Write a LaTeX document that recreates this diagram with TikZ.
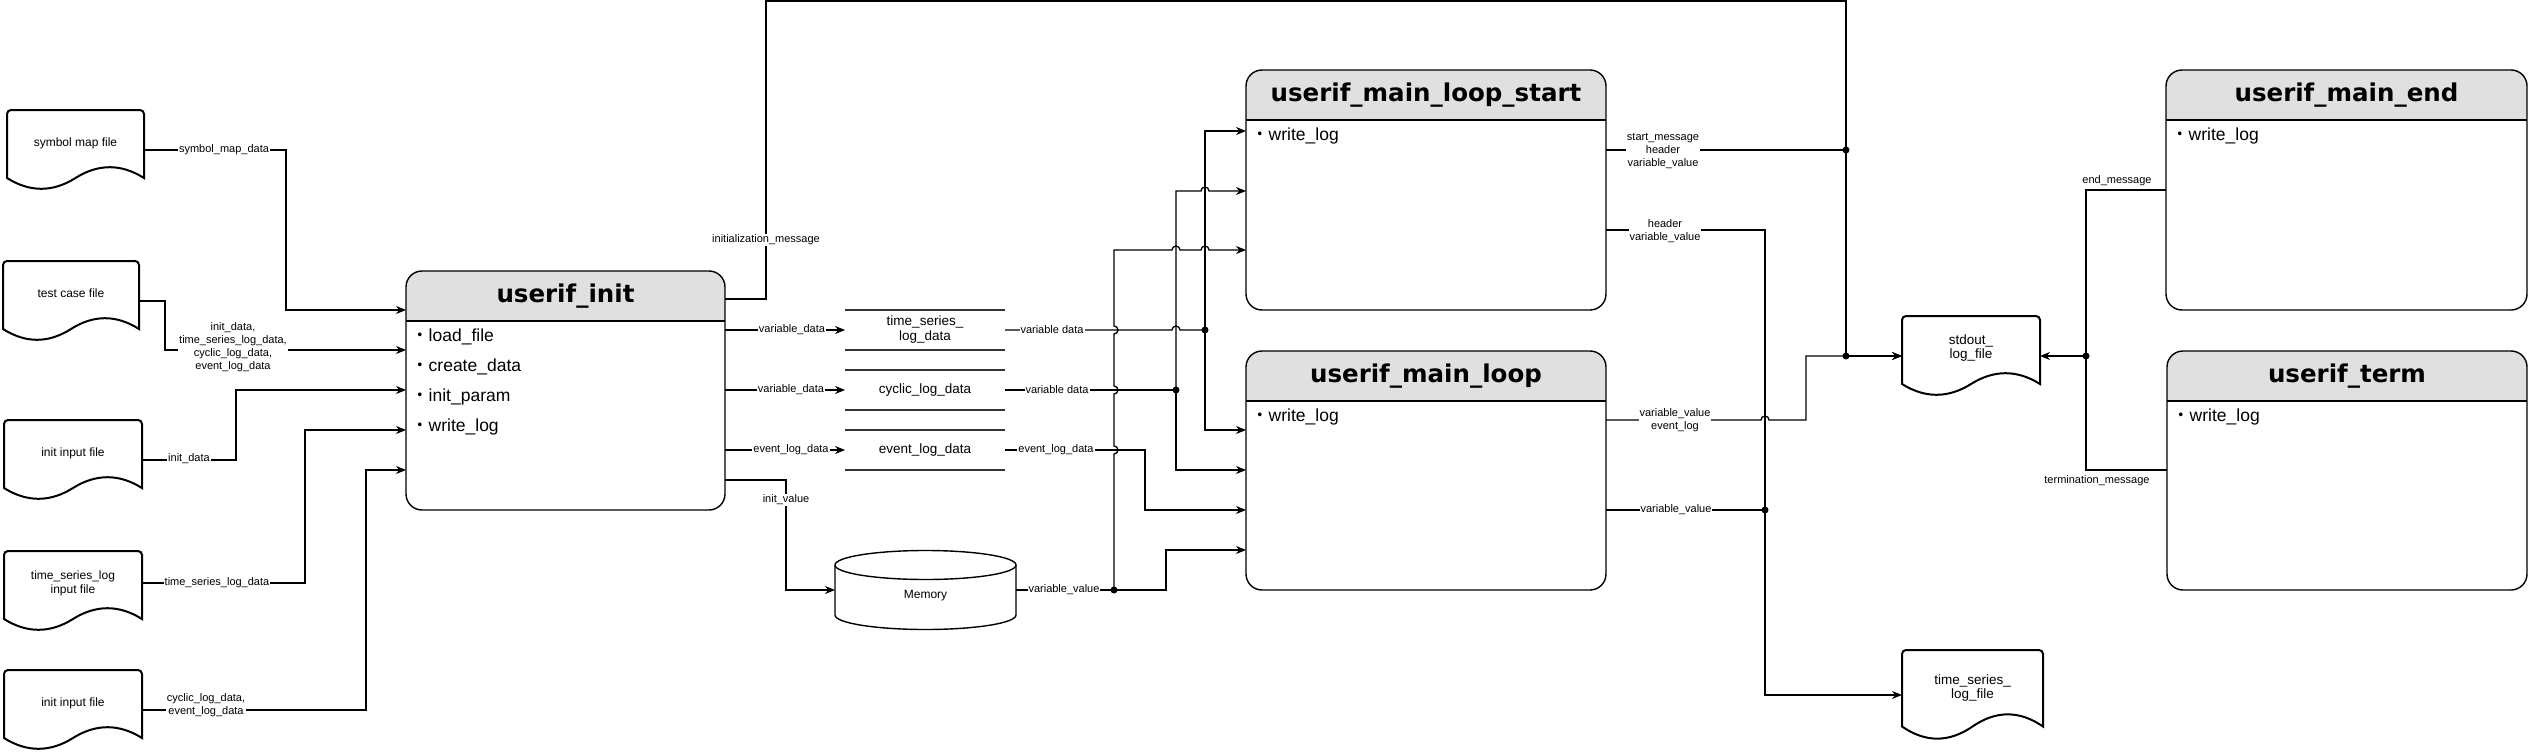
\documentclass[tikz,border=0pt]{standalone}
\usepackage{fontspec}
\setmainfont{Liberation Sans}
\newfontfamily\ttlfont{DejaVu Sans}
\newfontfamily\cjkfont{Noto Sans CJK JP}
\usetikzlibrary{arrows.meta,calc}
\definecolor{hdrfill}{RGB}{224,224,224}
\definecolor{storegray}{RGB}{51,51,51}
\tikzset{
  conn/.style={line width=1.3pt, draw=black},
  arr/.style={conn, -{Stealth[length=10pt,width=8pt]}},
  lbl/.style={font=\fontsize{11}{13}\selectfont, fill=white, inner sep=1pt, align=center},
  docline/.style={line width=2pt, draw=black, fill=white},
  doctext/.style={font=\fontsize{12}{14}\selectfont, align=center, inner sep=0pt},
  doctextb/.style={font=\fontsize{13.5}{14.5}\selectfont, align=center, inner sep=0pt},
  anchorbox/.style={draw=none, inner sep=0pt, outer sep=0pt},
  boxline/.style={line width=1.4pt, draw=black},
  storeline/.style={line width=2.2pt, draw=storegray},
  storetext/.style={anchorbox, minimum width=160pt, minimum height=40pt, font=\fontsize{13.5}{15}\selectfont, align=center},
  titletext/.style={font=\ttlfont\bfseries\fontsize{24.5}{28}\selectfont, inner sep=0pt},
  itemtext/.style={font=\fontsize{17.5}{20}\selectfont, inner sep=0pt, anchor=west},
  jdot/.style={fill=black},
}
\newcommand\mainbox[6]{%
  \node[anchorbox, minimum width=#4pt, minimum height=#5pt] (#1) at (#2,#3) {};
  \begin{scope}
    \clip[rounded corners=16pt] (#1.north west) rectangle (#1.south east);
    \fill[hdrfill] (#1.north west) rectangle ($(#1.north east)+(0,50)$);
  \end{scope}
  \draw[boxline] ($(#1.north west)+(0,50)$) -- ($(#1.north east)+(0,50)$);
  \draw[boxline, rounded corners=16pt] (#1.north west) rectangle (#1.south east);
  \node[titletext] (#1-title) at ($(#1.north)+(0,25)$) {#6};
}
\newcommand\boxitem[3]{%
  \node[itemtext] (#1-i#2) at ($(#1.north west)+(5,{36+30*#2})$) {{\cjkfont ・}#3};
}
\newcommand\docshape[4]{%
  \draw[docline] (#1,{#2+0.85*#4}) [rounded corners=4pt] -- (#1,#2) -- ({#1+#3},#2) [sharp corners] -- ({#1+#3},{#2+0.85*#4})
    .. controls ({#1+0.8333*#3},{#2+0.67*#4}) and ({#1+0.6667*#3},{#2+0.67*#4}) .. ({#1+0.5*#3},{#2+0.85*#4})
    .. controls ({#1+0.3333*#3},{#2+1.03*#4}) and ({#1+0.1667*#3},{#2+1.03*#4}) .. (#1,{#2+0.85*#4}) -- cycle;
}
\newcommand\docnode[8]{%
  \docshape{#2}{#3}{#4}{#5}
  \node[anchorbox, minimum width=#4pt, minimum height=#5pt] (#1) at ({#2+0.5*#4},{#3+0.5*#5}) {};
  \node[#7] (#1-t) at ({#2+0.5*#4},{#3+#6}) {#8};
}
\begin{document}
\begin{tikzpicture}[x=1pt,y=-1pt]
\useasboundingbox (0,0) rectangle (2528,752);
\fill[white] (0,0) rectangle (2528,752);

% ---------- documents ----------
\docnode{sym}{7}{110}{137}{80}{33}{doctext}{symbol map file}
\docnode{tc}{3}{261}{136}{80}{32}{doctext}{test case file}
\docnode{iin}{4}{420}{138}{80}{33}{doctext}{init input file}
\docnode{tsin}{4}{551}{138}{80}{32}{doctext}{time\_series\_log\\input file}
\docnode{iin2}{4}{670}{138}{80}{33}{doctext}{init input file}
\docnode{stdout}{1902}{316}{138}{80}{32}{doctextb}{stdout\_\\log\_file}
\docnode{tslog}{1902}{650}{141}{90}{38}{doctextb}{time\_series\_\\log\_file}

% ---------- main boxes ----------
\mainbox{init}{565.5}{390.5}{319}{239}{userif\_init}
\boxitem{init}{1}{load\_file}
\boxitem{init}{2}{create\_data}
\boxitem{init}{3}{init\_param}
\boxitem{init}{4}{write\_log}
\mainbox{mls}{1426}{190}{360}{240}{userif\_main\_loop\_start}
\boxitem{mls}{1}{write\_log}
\mainbox{ml}{1426}{470.5}{360}{239}{userif\_main\_loop}
\boxitem{ml}{1}{write\_log}
\mainbox{mend}{2346.5}{190}{361}{240}{userif\_main\_end}
\boxitem{mend}{1}{write\_log}
\mainbox{term}{2347}{470.5}{360}{239}{userif\_term}
\boxitem{term}{1}{write\_log}

% ---------- data stores ----------
\node[storetext] (tsd) at (925,330) {time\_series\_\\log\_data};
\node[storetext] (cld) at (925,390) {cyclic\_log\_data};
\node[storetext] (evd) at (925,450) {event\_log\_data};
\foreach \s in {tsd,cld,evd}{
  \draw[storeline] (\s.north west) -- (\s.north east) (\s.south west) -- (\s.south east);
}

% ---------- memory ----------
\node[anchorbox, minimum width=181pt, minimum height=79pt] (mem) at (925.5,590) {};
\draw[boxline, fill=white] (835,565) -- (835,615) arc[start angle=180, end angle=360, x radius=90.5pt, y radius=14.5pt] -- (1016,565) arc[start angle=0, end angle=180, x radius=90.5pt, y radius=14.5pt] -- cycle;
\draw[boxline] (835,565) arc[start angle=180, end angle=360, x radius=90.5pt, y radius=14.5pt];
\node[font=\fontsize{12}{14}\selectfont, inner sep=0pt] (mem-t) at (925.5,596) {Memory};

% ---------- inputs to userif_init ----------
\draw[arr] (sym.east) -- (286,150) -- (286,310) -- (init.west |- 0,310);
\draw[arr] (tc.east) -- (165,301) -- (165,350) -- (init.west |- 0,350);
\draw[arr] (iin.east) -- (236,460) -- (236,390) -- (init.west |- 0,390);
\draw[arr] (tsin.east |- 0,583) -- (305,583) -- (305,430) -- (init.west |- 0,430);
\draw[arr] (iin2.east) -- (366,710) -- (366,470) -- (init.west |- 0,470);

% ---------- outputs of userif_init ----------
\draw[arr] (init.east |- 0,330) -- (tsd.west);
\draw[arr] (init.east |- 0,390) -- (cld.west);
\draw[arr] (init.east |- 0,450) -- (evd.west);
\draw[arr] (init.east |- 0,480) -- (786,480) -- (786,590) -- (mem.west);
\draw[arr] (init.east |- 0,299) -- (766,299) -- (766,1) -- (1846,1) -- (1846,356) -- (stdout.west);

% ---------- stores to main loop boxes ----------
\coordinate (jts) at (1205,330);
\coordinate (jcy) at (1176,390);
\coordinate (jmem) at (1114,590);
\draw[conn] (tsd.east) -- (1172,330) arc[start angle=180, end angle=0, radius=4pt] -- (jts);
\draw[arr] (jts) -- (1205,131) -- (mls.west |- 0,131);
\draw[arr] (jts) -- (1205,430) -- (ml.west |- 0,430);
\draw[conn] (cld.east) -- (jcy);
\draw[arr] (jcy) -- (1176,191) -- (1201,191) arc[start angle=180, end angle=0, radius=4pt] -- (mls.west |- 0,191);
\draw[arr] (jcy) -- (1176,470) -- (ml.west |- 0,470);
\draw[arr] (evd.east) -- (1145,450) -- (1145,510) -- (ml.west |- 0,510);
\draw[conn] (mem.east) -- (jmem);
\draw[arr] (jmem) -- (1114,454) arc[start angle=-90, end angle=90, radius=4pt] -- (1114,394) arc[start angle=-90, end angle=90, radius=4pt] -- (1114,334) arc[start angle=-90, end angle=90, radius=4pt] -- (1114,250) -- (1172,250) arc[start angle=180, end angle=0, radius=4pt] -- (1201,250) arc[start angle=180, end angle=0, radius=4pt] -- (mls.west |- 0,250);
\draw[arr] (jmem) -- (1166,590) -- (1166,550) -- (ml.west |- 0,550);
\foreach \j in {jts,jcy,jmem}{ \fill[jdot] (\j) circle (3.5pt); }

% ---------- right side ----------
\coordinate (jtop) at (1846,150);
\coordinate (jst) at (1846,356);
\coordinate (jvv) at (1765,510);
\coordinate (jend) at (2086,356);
\draw[conn] (mls.east |- 0,150) -- (jtop);
\draw[arr] (mls.east |- 0,230) -- (1765,230) -- (1765,695) -- (tslog.west);
\draw[arr] (ml.east |- 0,420) -- (1761,420) arc[start angle=180, end angle=0, radius=4pt] -- (1806,420) -- (1806,356) -- (stdout.west);
\draw[conn] (ml.east |- 0,510) -- (jvv);
\draw[arr] (mend.west |- 0,190) -- (2086,190) -- (2086,356) -- (stdout.east);
\draw[conn] (term.west |- 0,470) -- (2086,470) -- (jend);
\foreach \j in {jtop,jst,jvv,jend}{ \fill[jdot] (\j) circle (3.5pt); }

% ---------- labels ----------
\node[lbl] (l-sym) at (224,150) {symbol\_map\_data};
\node[lbl] (l-tc) at (233,347) {init\_data,\\time\_series\_log\_data,\\cyclic\_log\_data,\\event\_log\_data};
\node[lbl] (l-iin) at (189,459) {init\_data};
\node[lbl] (l-tsin) at (217,583) {time\_series\_log\_data};
\node[lbl] (l-iin2) at (206,705) {cyclic\_log\_data,\\event\_log\_data};
\node[lbl] (l-v1) at (792,330) {variable\_data};
\node[lbl] (l-v2) at (791,390) {variable\_data};
\node[lbl] (l-e1) at (791,450) {event\_log\_data};
\node[lbl] (l-iv) at (786,500) {init\_value};
\node[lbl] (l-im) at (766,240) {initialization\_message};
\node[lbl] (l-v3) at (1052,330) {variable data};
\node[lbl] (l-v4) at (1057,390) {variable data};
\node[lbl] (l-e2) at (1056,450) {event\_log\_data};
\node[lbl] (l-vv) at (1064,590) {variable\_value};
\node[lbl] (l-sm) at (1663,151) {start\_message\\header\\variable\_value};
\node[lbl] (l-hv) at (1665,231) {header\\variable\_value};
\node[lbl] (l-ve) at (1675,420) {variable\_value\\event\_log};
\node[lbl] (l-vv2) at (1676,510) {variable\_value};
\node[lbl] (l-em) at (2117,181) {end\_message};
\node[lbl] (l-tm) at (2097,481) {termination\_message};
\end{tikzpicture}
\end{document}
